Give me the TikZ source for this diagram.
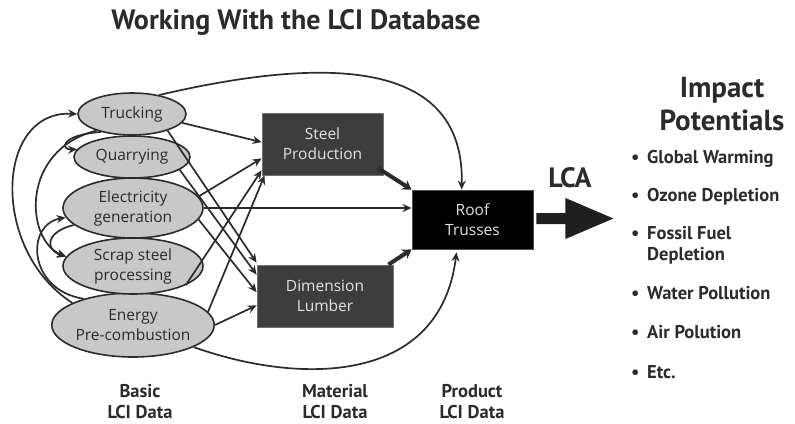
\documentclass[tikz,border=0pt]{standalone}
\usepackage{fontspec}
\setmainfont{PT Sans}
\newfontfamily\labelfont{Open Sans}
\usetikzlibrary{shapes.geometric,arrows.meta,calc}

\definecolor{ink}{HTML}{2B2B2B}
\definecolor{procfill}{HTML}{C8C8C8}
\definecolor{matfill}{HTML}{3D3D3D}
\definecolor{boxtext}{HTML}{E2E2E2}

\begin{document}
\begin{tikzpicture}[x=1pt,y=-1pt,
  proc/.style={ellipse, draw=ink, line width=1.6pt, fill=procfill, inner sep=0pt,
    align=center, text=ink, font=\labelfont\fontsize{15.5}{20}\selectfont},
  matbox/.style={rectangle, draw=black!55, line width=0.8pt, fill=matfill, inner sep=0pt,
    align=center, text=boxtext, font=\labelfont\fontsize{15.5}{20}\selectfont},
  prodbox/.style={matbox, draw=black!70, fill=black},
  link/.style={draw=ink, line width=1.7pt, -{Stealth[length=9pt,width=8pt]}},
  fatlink/.style={draw=ink, line width=4pt, -{Stealth[length=9pt,width=11pt]}},
  heading/.style={text=ink, font=\bfseries\fontsize{28}{32}\selectfont},
  collabel/.style={text=ink, align=center, font=\bfseries\fontsize{18.5}{21}\selectfont},
  item/.style={anchor=base west, text=ink, align=left, font=\bfseries\fontsize{18.5}{21}\selectfont, inner sep=0pt}
]
\useasboundingbox (0,0) rectangle (795,423);

% title
\node[heading] (title) at (296,22) {Working With the LCI Database};

% basic processes
\node[proc, minimum width=160pt, minimum height=64pt] (en) at (133,325) {Energy\\Pre-combustion};
\node[proc, minimum width=140pt, minimum height=56pt] (sc) at (133,266) {Scrap steel\\processing};
\node[proc, minimum width=140pt, minimum height=60pt] (el) at (133,208) {Electricity\\generation};
\node[proc, minimum width=116pt, minimum height=42pt] (qu) at (132,157) {Quarrying};
\node[proc, minimum width=108pt, minimum height=42pt] (tr) at (132,114) {Trucking};

% materials and product
\node[matbox, minimum width=121pt, minimum height=62pt] (sp) at (322.5,144) {Steel\\Production};
\node[matbox, minimum width=136pt, minimum height=62pt] (dl) at (325,296) {Dimension\\Lumber};
\node[prodbox, minimum width=121pt, minimum height=59pt] (rt) at (472.5,219.5) {Roof\\Trusses};

% loops among the basic processes
\draw[link] (en.160) .. controls (-10,250) and (-5,110) .. (tr.west);
\draw[link] (tr.205) .. controls (20,150) and (25,240) .. (sc.172);
\draw[link] (tr.210) .. controls (60,135) and (60,150) .. (qu.172);
\draw[link] (en.152) .. controls (28,290) and (25,225) .. (el.188);
\draw[link] (el.196) .. controls (45,232) and (45,250) .. (sc.172);

% basic processes to steel production
\draw[link] (tr.-10) -- ($(sp.north west)!0.47!(sp.south west)$);
\draw[link] (el.10) -- ($(sp.north west)!0.73!(sp.south west)$);
\draw[link] (sc.-20) -- ($(sp.north west)!0.92!(sp.south west)$);
\draw[link] (en.10) -- ($(sp.south west)+(3,0)$);

% basic processes to dimension lumber
\draw[link] (tr.-25) -- ($(dl.north west)+(0,-2)$);
\draw[link] (qu.-15) -- ($(dl.north west)!0.16!(dl.south west)$);
\draw[link] (el.-10) -- ($(dl.north west)!0.44!(dl.south west)$);
\draw[link] (en.0) -- ($(dl.north west)!0.65!(dl.south west)$);

% direct inputs to the roof trusses
\draw[link] (el.east) -- (el.east -| rt.west);
\draw[link] (tr.35) .. controls (330,55) and (465,60) .. (rt.110);
\draw[link] (en.-20) .. controls (300,385) and (440,385) .. ($(rt.south)+(-16,3)$);
\draw[fatlink] ($(sp.south east)+(-5,-7)$) -- (rt.north west);
\draw[fatlink] ($(dl.north east)+(-5,0)$) -- (rt.south west);

% LCA arrow
\fill[black!88] ($(rt.east)+(3,-6.5)$) -- ++(29,0) -- ++(0,-15) -- ++(48,20.5)
  -- ++(-48,20.5) -- ++(0,-15) -- ++(-29,0) -- cycle;
\node[heading, font=\bfseries\fontsize{28}{30}\selectfont] (lca) at (570,178) {LCA};

% impact categories
\node[heading, align=center, font=\bfseries\fontsize{29}{33}\selectfont] (imp) at (722,104) {Impact\\Potentials};
\node[item] (i1) at (631,163.5) {\makebox[16pt][l]{•}Global Warming};
\node[item] (i2) at (631,201.5) {\makebox[16pt][l]{•}Ozone Depletion};
\node[item] (i3) at (631,260.5) {\makebox[16pt][l]{•}Fossil Fuel\\\hspace*{16pt}Depletion};
\node[item] (i4) at (631,299.5) {\makebox[16pt][l]{•}Water Pollution};
\node[item] (i5) at (631,338.5) {\makebox[16pt][l]{•}Air Polution};
\node[item] (i6) at (631,378.5) {\makebox[16pt][l]{•}Etc.};

% column labels
\node[collabel] (c1) at (140,402) {Basic\\LCI Data};
\node[collabel] (c2) at (335,402) {Material\\LCI Data};
\node[collabel] (c3) at (472,402) {Product\\LCI Data};
\end{tikzpicture}
\end{document}
